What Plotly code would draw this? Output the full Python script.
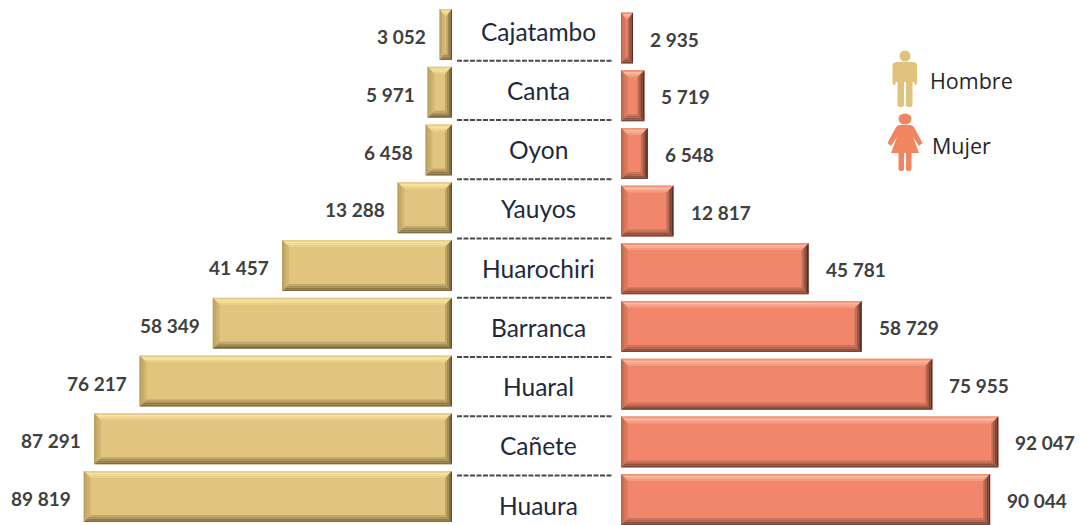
import plotly.graph_objects as go

provincias = ["Cajatambo", "Canta", "Oyon", "Yauyos", "Huarochiri", "Barranca", "Huaral", "Cañete", "Huaura"]
hombres = [3052, 5971, 6458, 13288, 41457, 58349, 76217, 87291, 89819]
mujeres = [2935, 5719, 6548, 12817, 45781, 58729, 75955, 92047, 90044]

W, H = 1081, 525
S = 0.0041          # px per person
ROW_L, TOP_L = 57.75, 34.5
ROW_R, TOP_R = 57.7, 38.0
ROW_C, TOP_C = 59.25, 31.0
BAR_H = 51.0

# bevel colours per side, outer edge to inner edge
GOLD = dict(face="#E1C57E",
            top=["#E6CE8C", "#F7E4A0", "#F2DC96", "#E9D08A"],
            bottom=["#7F6C42", "#8F7A4A", "#A8915A", "#BFA568"],
            left=["#B89D5C", "#C2A766", "#CAAF6C", "#D2B772"],
            right=["#5E5032", "#7F6D42", "#A08A55", "#BDA365"])
CORAL = dict(face="#F1866A",
             top=["#EE9478", "#FCBBA5", "#F9AC92", "#F59C80"],
             bottom=["#7A4636", "#8F5240", "#B0664E", "#C9735A"],
             left=["#B5654C", "#C66F53", "#D2775B", "#DC7D60"],
             right=["#54302A", "#754435", "#9A5845", "#BD6E55"])
LABEL = "#404040"


def fmt(v):
    return f"{v:,}".replace(",", " ")


def yr(top, row):
    a = -top / row
    return [a + H / row, a]


def bevel(value, idx, sign, axis, colors):
    """Bevelled edges anchored on the bar's outer end; sign=+1 bar extends right of the base."""
    w = value * S
    h = BAR_H / 2
    dx = min(7.0, w * 0.45)
    dy = 7.0
    suffix = str(axis) if axis > 1 else ""
    outer_side, base_side = ("right", "left") if sign > 0 else ("left", "right")
    n = len(colors["top"])
    out = []

    def P(pts):
        return "M" + " L".join(f"{-sign * u:.2f},{v:.2f}" for u, v in pts) + " Z"

    for k in range(n):
        a, b = k / n, (k + 1) / n
        ax, bx, ay, by = dx * a, dx * b, dy * a, dy * b
        out += [
            (P([(ax, h - ay), (w - ax, h - ay), (w - bx, h - by), (bx, h - by)]), colors["top"][k]),
            (P([(ax, -h + ay), (w - ax, -h + ay), (w - bx, -h + by), (bx, -h + by)]), colors["bottom"][k]),
            (P([(ax, h - ay), (bx, h - by), (bx, -h + by), (ax, -h + ay)]), colors[outer_side][k]),
            (P([(w - ax, h - ay), (w - bx, h - by), (w - bx, -h + by), (w - ax, -h + ay)]), colors[base_side][k]),
        ]
    return [dict(type="path", xref="x" + suffix, yref="y" + suffix,
                 xsizemode="pixel", ysizemode="pixel", xanchor=value, yanchor=idx,
                 path=p, fillcolor=c, line=dict(width=0), layer="above") for p, c in out]


fig = go.Figure()
fig.add_trace(go.Bar(y=provincias, x=hombres, orientation="h", xaxis="x", yaxis="y",
                     marker=dict(color=GOLD["face"], line=dict(width=0)), hoverinfo="skip"))
fig.add_trace(go.Bar(y=provincias, x=mujeres, orientation="h", xaxis="x2", yaxis="y2",
                     marker=dict(color=CORAL["face"], line=dict(width=0)), hoverinfo="skip"))
fig.add_trace(go.Scatter(y=provincias, x=[0.5] * len(provincias), mode="markers", marker=dict(opacity=0),
                         xaxis="x3", yaxis="y3", hoverinfo="skip"))

shapes, annotations = [], []
for i, name in enumerate(provincias):
    shapes += bevel(hombres[i], i, -1, 1, GOLD)
    shapes += bevel(mujeres[i], i, 1, 2, CORAL)
    annotations.append(dict(x=0.5, y=name, xref="x3", yref="y3", text=name, showarrow=False,
                            xshift=3, yshift=0,
                            font=dict(family="Lato, sans-serif", size=24.5, color="#1E2A3C")))
    annotations.append(dict(x=hombres[i], y=name, xref="x", yref="y", text=f"<b>{fmt(hombres[i])}</b>",
                            showarrow=False, xanchor="right", xshift=-11, yshift=-2,
                            font=dict(family="Lato, sans-serif", size=19, color=LABEL)))
    annotations.append(dict(x=mujeres[i], y=name, xref="x2", yref="y2", text=f"<b>{fmt(mujeres[i])}</b>",
                            showarrow=False, xanchor="left", xshift=15, yshift=-1,
                            font=dict(family="Lato, sans-serif", size=19, color=LABEL)))
    if i < len(provincias) - 1:
        shapes.append(dict(type="line", xref="x3", yref="y3", x0=0, x1=1, y0=i + 0.5, y1=i + 0.5,
                           line=dict(color="#4A4A4A", width=2, dash="5px,1.5px")))

# legend pictograms (pixel paths anchored in the page)
MAN = ("M-8,17 Q-12.5,17 -12.5,13 L-12.5,-4 Q-12.5,-6 -9.5,-6 L-9.5,-3 L-7.5,-3 L-7.5,-26 Q-7.5,-28 -4,-28"
       " Q-1,-28 -1,-26 L-1,-3 L1,-3 L1,-26 Q1,-28 4,-28 Q7.5,-28 7.5,-26 L7.5,-3 L9.5,-3 L9.5,-6"
       " Q12,-6 12,-4 L12,13 Q12,17 8,17 Z")
WOMAN = ("M-5,19 L5,19 Q8,19 10,15 L17.5,1 L14,-2 L8,7 L14,-9 L6.5,-9 L6.5,-25 Q6.5,-27 4,-27 Q1,-27 1,-25"
         " L1,-9 L-1,-9 L-1,-25 Q-1,-27 -4,-27 Q-6.5,-27 -6.5,-25 L-6.5,-9 L-14,-9 L-8,7 L-14,-2 L-17.5,1 L-10,15 Q-8,19 -5,19 Z")
for path, cx, cy, color in [(MAN, 905, 79, "#E0C27C"), (WOMAN, 905, 144, "#F08560")]:
    shapes.append(dict(type="path", xref="paper", yref="paper", xsizemode="pixel", ysizemode="pixel",
                       xanchor=cx / W, yanchor=1 - cy / H, path=path, fillcolor=color, line=dict(width=0)))
shapes.append(dict(type="circle", xref="paper", yref="paper", xsizemode="pixel", ysizemode="pixel",
                   xanchor=905 / W, yanchor=1 - 56 / H, x0=-5.5, x1=5.5, y0=-5.5, y1=5.5,
                   fillcolor="#E0C27C", line=dict(width=0)))
shapes.append(dict(type="circle", xref="paper", yref="paper", xsizemode="pixel", ysizemode="pixel",
                   xanchor=905 / W, yanchor=1 - 119 / H, x0=-6.5, x1=6.5, y0=-5.5, y1=5.5,
                   fillcolor="#F08560", line=dict(width=0)))
for txt, x, y in [("Hombre", 928, 81), ("Mujer", 930, 145)]:
    annotations.append(dict(x=x / W, y=1 - y / H, xref="paper", yref="paper", text=txt, showarrow=False,
                            xanchor="left", yanchor="middle",
                            font=dict(family="Open Sans, sans-serif", size=21.5, color="#262626")))

hidden = dict(visible=False, fixedrange=True)
cat = dict(type="category", categoryorder="array", categoryarray=provincias)
fig.update_layout(
    width=W, height=H, autosize=False, showlegend=False, bargap=0.117,
    margin=dict(l=0, r=0, t=0, b=0, pad=0),
    paper_bgcolor="white", plot_bgcolor="rgba(0,0,0,0)",
    xaxis=dict(domain=[0, 452 / W], range=[452 / S, 0], anchor="y", **hidden),
    yaxis=dict(domain=[0, 1], range=yr(TOP_L, ROW_L), anchor="x", **cat, **hidden),
    xaxis2=dict(domain=[621 / W, 1], range=[0, 460 / S], anchor="y2", **hidden),
    yaxis2=dict(domain=[0, 1], range=yr(TOP_R, ROW_R), anchor="x2", **cat, **hidden),
    xaxis3=dict(domain=[457 / W, 613 / W], range=[0, 1], anchor="y3", **hidden),
    yaxis3=dict(domain=[0, 1], range=yr(TOP_C, ROW_C), anchor="x3", **cat, **hidden),
    shapes=shapes, annotations=annotations,
)

fig.write_html("out.html", config=dict(displayModeBar=False),
               post_script="document.body.style.margin='0';document.body.style.overflow='hidden';")
